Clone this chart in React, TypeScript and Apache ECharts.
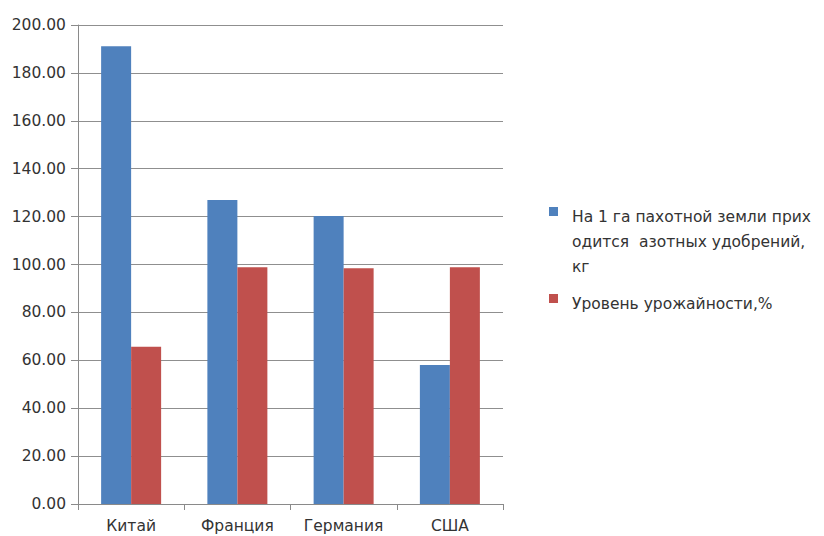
import React, { useEffect, useRef } from "react";
import * as echarts from "echarts";

const categories = ["Китай", "Франция", "Германия", "США"];
const seriesNames = [
  "На 1 га пахотной земли прих\nодится  азотных удобрений,\nкг",
  "Уровень урожайности,%",
];
const nitrogen = [191.1, 126.9, 120.2, 58.0];
const yieldLevel = [65.7, 98.8, 98.4, 98.8];
const colors = ["#4F81BD", "#C0504D"];

const FONT = "'DejaVu Sans', 'Open Sans', sans-serif";

export default function App() {
  const ref = useRef<HTMLDivElement>(null);
  useEffect(() => {
    if (!ref.current) return;
    const chart = echarts.init(ref.current, undefined, { renderer: "svg" });
    chart.setOption({
      animation: false,
      backgroundColor: "#ffffff",
      textStyle: { fontFamily: FONT },
      grid: {
        left: 78,
        right: 321,
        top: 25,
        bottom: 32,
        containLabel: false,
        outerBoundsMode: "none",
      },
      xAxis: {
        type: "category",
        data: categories,
        axisLine: { lineStyle: { color: "#8a8a8a", width: 1 } },
        axisTick: { show: true, length: 6, alignWithLabel: false, lineStyle: { color: "#8a8a8a" } },
        axisLabel: {
          interval: 0,
          margin: 13,
          fontSize: 15.5,
          lineHeight: 17,
          color: "#333",
          fontFamily: FONT,
        },
      },
      yAxis: {
        type: "value",
        min: 0,
        max: 200,
        interval: 20,
        axisLine: { show: true, lineStyle: { color: "#8a8a8a", width: 1 } },
        axisTick: { show: true, length: 7, lineStyle: { color: "#8a8a8a" } },
        splitLine: { lineStyle: { color: "#8f8f8f", width: 1 } },
        axisLabel: {
          margin: 12,
          fontSize: 15.5,
          color: "#333",
          fontFamily: FONT,
          formatter: (v: number) => v.toFixed(2),
        },
      },
      series: [
        {
          name: seriesNames[0],
          type: "bar",
          data: nitrogen,
          barWidth: 30,
          barGap: "0%",
          itemStyle: { color: colors[0] },
        },
        {
          name: seriesNames[1],
          type: "bar",
          data: yieldLevel,
          barWidth: 30,
          barGap: "0%",
          itemStyle: { color: colors[1] },
        },
      ],
      graphic: [
        { type: "rect", left: 549, top: 207, shape: { width: 9, height: 9 }, style: { fill: colors[0] } },
        {
          type: "text",
          left: 572,
          top: 204,
          style: {
            text: seriesNames[0],
            fontSize: 15.5,
            lineHeight: 25,
            fill: "#333",
            fontFamily: FONT,
          },
        },
        { type: "rect", left: 549, top: 294, shape: { width: 9, height: 9 }, style: { fill: colors[1] } },
        {
          type: "text",
          left: 572,
          top: 291,
          style: {
            text: seriesNames[1],
            fontSize: 15.5,
            lineHeight: 25,
            fill: "#333",
            fontFamily: FONT,
          },
        },
      ],
    });
    return () => chart.dispose();
  }, []);
  return <div ref={ref} style={{ width: 824, height: 536, position: "fixed", left: 0, top: 0 }} />;
}
